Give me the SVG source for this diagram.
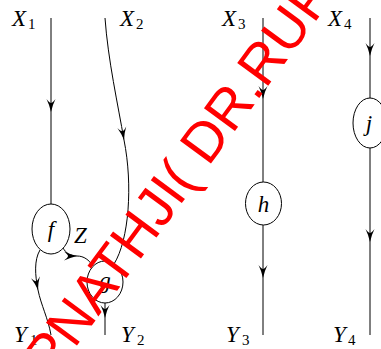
<svg xmlns="http://www.w3.org/2000/svg" width="381" height="349" viewBox="0 0 381 349">
<defs>
<style>
.ln{fill:none;stroke:#000;stroke-width:1}
.nd{fill:#fff;stroke:#000;stroke-width:1}
.t{font-family:"Liberation Serif","Times New Roman",serif;font-size:23px;font-style:italic;fill:#000}
.s{font-style:normal;font-size:15px}
.wm{font-family:"Liberation Sans",Arial,sans-serif;font-size:56px;fill:#ff0000}
</style>
<marker id="ar" viewBox="-14 -6 16 12" refX="0" refY="0" markerWidth="16" markerHeight="12" markerUnits="userSpaceOnUse" orient="auto">
<path d="M0,0 Q-7,-1.5 -13,-4.5 Q-9,-1.5 -9,0 Q-9,1.5 -13,4.5 Q-7,1.5 0,0 Z" fill="#000"/>
</marker>
</defs>
<g id="connectors">
<path class="ln" d="M51,18 L51,112" marker-end="url(#ar)"/>
<path class="ln" d="M51,112 L51,204"/>
<path class="ln" d="M105,18 C108,60 118,105 124,140" marker-end="url(#ar)"/>
<path class="ln" d="M124,140 C133,185 129,240 114,264"/>
<path class="ln" d="M40,250 C34,260 35,275 38,290" marker-end="url(#ar)"/>
<path class="ln" d="M38,290 C41,305 48,318 51,335"/>
<path class="ln" d="M63,248 C66,253 70,256 77,256" marker-end="url(#ar)"/>
<path class="ln" d="M77,256 C84,256 89,260 93,266"/>
<path class="ln" d="M105,303 L105,318" marker-end="url(#ar)"/>
<path class="ln" d="M105,318 L105,335"/>
<path class="ln" d="M263,18 L263,99" marker-end="url(#ar)"/>
<path class="ln" d="M263,99 L263,182"/>
<path class="ln" d="M263,225 L263,278" marker-end="url(#ar)"/>
<path class="ln" d="M263,278 L263,335"/>
<path class="ln" d="M370,18 L370,56" marker-end="url(#ar)"/>
<path class="ln" d="M370,56 L370,98"/>
<path class="ln" d="M370,148 L370,242" marker-end="url(#ar)"/>
<path class="ln" d="M370,242 L370,335"/>
</g>
<g id="f"><ellipse class="nd" cx="51" cy="229" rx="19" ry="25"/><text class="t" x="51" y="237" text-anchor="middle">f</text></g>
<g id="g"><ellipse class="nd" cx="105" cy="282" rx="18" ry="21"/><text class="t" x="105" y="288" text-anchor="middle">g</text></g>
<g id="h"><ellipse class="nd" cx="263.5" cy="203.5" rx="18" ry="21.5"/><text class="t" x="263.5" y="212" text-anchor="middle">h</text></g>
<g id="j"><ellipse class="nd" cx="370" cy="123" rx="17" ry="25"/><text class="t" x="369" y="131" text-anchor="middle">j</text></g>
<g id="labels">
<text class="t" x="12" y="26">X<tspan class="s" x="28" y="29">1</tspan></text>
<text class="t" x="120" y="26">X<tspan class="s" x="136" y="29">2</tspan></text>
<text class="t" x="222" y="26">X<tspan class="s" x="238" y="29">3</tspan></text>
<text class="t" x="328" y="26">X<tspan class="s" x="344" y="29">4</tspan></text>
<text class="t" x="14" y="342">Y<tspan class="s" x="30" y="345">1</tspan></text>
<text class="t" x="121" y="342">Y<tspan class="s" x="137" y="345">2</tspan></text>
<text class="t" x="226" y="342">Y<tspan class="s" x="242" y="345">3</tspan></text>
<text class="t" x="333" y="342">Y<tspan class="s" x="348" y="345">4</tspan></text>
<text class="t" x="74" y="243">Z</text>
</g>
<text class="wm" transform="translate(4 444.3) rotate(-53.6)" x="0" y="0">RUPNATHJI( DR.RUPAK NATH )</text>
</svg>
